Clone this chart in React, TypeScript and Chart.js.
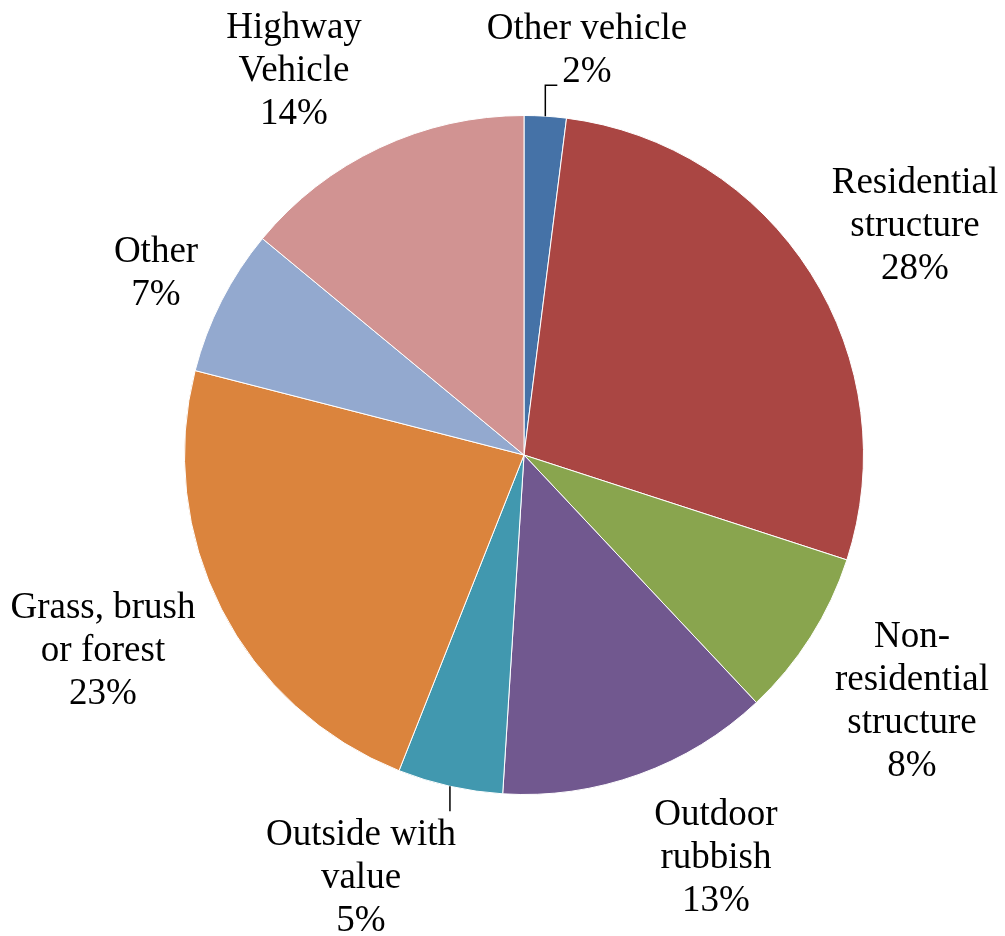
import React, { useEffect, useRef } from "react";
import { Chart, registerables } from "chart.js";

Chart.register(...registerables);

const categories = [
  "Other vehicle",
  "Residential structure",
  "Non-residential structure",
  "Outdoor rubbish",
  "Outside with value",
  "Grass, brush or forest",
  "Other",
  "Highway Vehicle",
];
const values = [2, 28, 8, 13, 5, 23, 7, 14];
const labelLines = [
  ["Other vehicle"],
  ["Residential", "structure"],
  ["Non-", "residential", "structure"],
  ["Outdoor", "rubbish"],
  ["Outside with", "value"],
  ["Grass, brush", "or forest"],
  ["Other"],
  ["Highway", "Vehicle"],
];
const colors = ["#4572A7", "#AA4643", "#89A54E", "#71588F", "#4198AF", "#DB843D", "#93A9CF", "#D19392"];

// layout of label blocks: center x, center y of first line (canvas px)
const labelPos = [
  { x: 587, y: 29 },
  { x: 915, y: 183 },
  { x: 912, y: 637 },
  { x: 716, y: 815 },
  { x: 361, y: 835 },
  { x: 103, y: 608 },
  { x: 156, y: 252 },
  { x: 294, y: 28 },
];
// leader lines: list of points (relative to arc mid-edge start) for small slices
const leaders: Record<number, { dx: number; dy: number }[]> = {
  0: [
    { dx: 0, dy: -31 },
    { dx: 12, dy: -31 },
  ],
  4: [{ dx: 0, dy: 25 }],
};
const LINE_H = 43;

const labelPlugin = {
  id: "sliceLabels",
  afterDraw(chart: any) {
    const ctx = chart.ctx;
    const meta = chart.getDatasetMeta(0);
    ctx.save();
    ctx.fillStyle = "#000";
    ctx.font = '37px "Liberation Serif", "Times New Roman", serif';
    ctx.textAlign = "center";
    ctx.textBaseline = "middle";
    meta.data.forEach((arc: any, i: number) => {
      const p = arc.getProps(["x", "y", "startAngle", "endAngle", "outerRadius"], true);
      const mid = (p.startAngle + p.endAngle) / 2;
      const sx = p.x + Math.cos(mid) * p.outerRadius;
      const sy = p.y + Math.sin(mid) * p.outerRadius;
      const ld = leaders[i];
      if (ld) {
        ctx.beginPath();
        ctx.strokeStyle = "#000";
        ctx.lineWidth = 1.5;
        ctx.moveTo(sx, sy);
        ld.forEach((pt) => ctx.lineTo(sx + pt.dx, sy + pt.dy));
        ctx.stroke();
      }
      const lines = [...labelLines[i], values[i] + "%"];
      const pos = labelPos[i];
      lines.forEach((t, k) => ctx.fillText(t, pos.x, pos.y + k * LINE_H));
    });
    ctx.restore();
  },
};

export default function App() {
  const ref = useRef<HTMLCanvasElement>(null);
  useEffect(() => {
    document.body.style.margin = "0";
    const chart = new Chart(ref.current!, {
      type: "pie",
      data: {
        labels: categories,
        datasets: [
          {
            data: values,
            backgroundColor: colors,
            borderColor: "#ffffff",
            borderWidth: 1,
          },
        ],
      },
      options: {
        responsive: false,
        animation: false,
        layout: { padding: { left: 184, right: 141, top: 115, bottom: 141 } },
        plugins: { legend: { display: false }, tooltip: { enabled: false } },
      },
      plugins: [labelPlugin],
    });
    return () => chart.destroy();
  }, []);
  return (
    <div style={{ width: 1005, height: 936, background: "#fff" }}>
      <canvas ref={ref} width={1005} height={936} />
    </div>
  );
}
